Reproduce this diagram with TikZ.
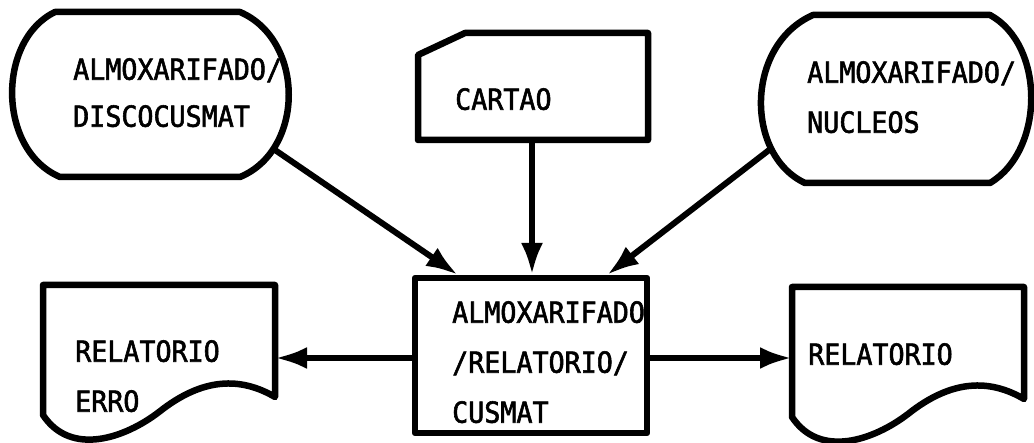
\documentclass[tikz,border=0pt]{standalone}
\usepackage{fontspec}
\newfontfamily\flowfont[FakeStretch=0.92,FakeBold=2]{DejaVu Sans Mono}
\usetikzlibrary{arrows.meta}
\begin{document}
\begin{tikzpicture}
[x=1pt,y=-1pt,
  outlinedecorate/.style={draw,line width=6.5pt,line join=round},%
  textdecorate/.style={anchor=north west,inner sep=0pt,align=left,font=\flowfont\fontsize{29}{50}\selectfont},%
  linedecorate/.style={-{Latex[length=32pt,width=22pt]},line width=6pt}]
\useasboundingbox (0,0) rectangle (1034,443);
%% outlines
% disks
\draw[outlinedecorate] (55,12) -- (240,12) .. controls (305,40) and (305,150) .. (240,177)
  -- (60,177) .. controls (-3,150) and (-3,40) .. cycle;
\draw[outlinedecorate] (813,15) -- (990,15) .. controls (1045,45) and (1045,150) .. (990,183)
  -- (805,183) .. controls (745,155) and (745,45) .. cycle;
% card
\draw[outlinedecorate] (418,55) -- (465,33) -- (648,33) -- (648,140) -- (418,140) -- cycle;
% program
\draw[outlinedecorate] (415,278) rectangle (647,433);
% reports
\foreach \dx/\dy in {43/285, 792/287} {
  \draw[outlinedecorate,shift={(\dx,\dy)}] (0,0) -- (232,0) -- (232,112)
    .. controls (198,92) and (160,92) .. (116,127)
    .. controls (82,153) and (28,172) .. (0,130) -- cycle;
}
%% texts
\node[textdecorate] (discL) at (73,58) {ALMOXARIFADO/\\[-3pt]DISCOCUSMAT};
\node[textdecorate] (card) at (455,88) {CARTAO};
\node[textdecorate] (discR) at (807,61) {ALMOXARIFADO/\\NUCLEOS};
\node[textdecorate] (proc) at (452,301) {ALMOXARIFADO\\/RELATORIO/\\CUSMAT};
\node[textdecorate] (docL) at (75,340) {RELATORIO\\ERRO};
\node[textdecorate] (docR) at (808,343) {RELATORIO};
%% connector ends
\coordinate (discLout) at (275,150);
\coordinate (cardout) at (532,140);
\coordinate (discRout) at (773,147);
\coordinate (procinL) at (458,275);
\coordinate (procinM) at (532,275);
\coordinate (procinR) at (607,275);
\coordinate (procW) at (415,358);
\coordinate (procE) at (647,358);
\coordinate (docLin) at (275,358);
\coordinate (docRin) at (792,358);
%% flows
\path
\foreach \startnode/\endnode in {discLout/procinL, cardout/procinM, discRout/procinR, procW/docLin, procE/docRin} {
  (\startnode) edge[linedecorate] (\endnode)
};
\end{tikzpicture}
\end{document}
